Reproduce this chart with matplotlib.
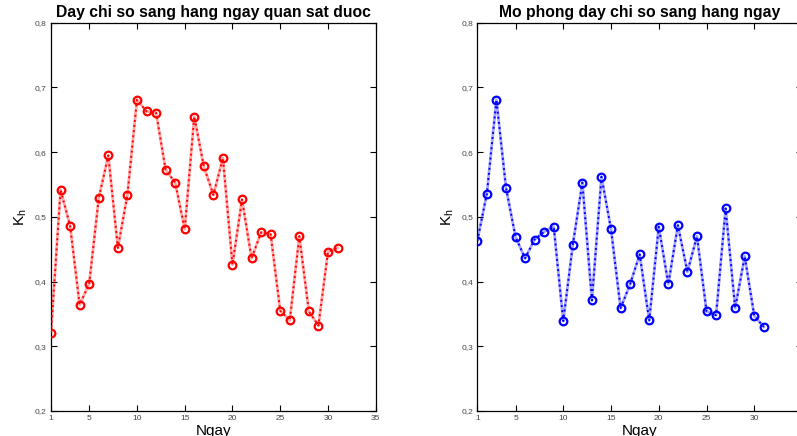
import matplotlib
matplotlib.use("Agg")
import matplotlib.pyplot as plt

plt.rcParams["font.family"] = ["Liberation Sans", "DejaVu Sans"]

days = list(range(1, 32))
observed = [0.321, 0.542, 0.486, 0.364, 0.397, 0.529, 0.595, 0.452, 0.534, 0.681,
            0.663, 0.661, 0.573, 0.553, 0.481, 0.655, 0.578, 0.534, 0.591, 0.426,
            0.527, 0.436, 0.476, 0.473, 0.355, 0.340, 0.470, 0.354, 0.332, 0.446,
            0.452]
simulated = [0.463, 0.536, 0.681, 0.545, 0.469, 0.436, 0.465, 0.477, 0.485, 0.339,
             0.457, 0.553, 0.371, 0.562, 0.481, 0.359, 0.396, 0.442, 0.340, 0.485,
             0.396, 0.487, 0.415, 0.470, 0.354, 0.348, 0.513, 0.359, 0.439, 0.347,
             0.330]

x_ticks = [1, 5, 10, 15, 20, 25, 30, 35]
y_ticks = [0.2, 0.3, 0.4, 0.5, 0.6, 0.7, 0.8]
y_ticklabels = ["0,2", "0,3", "0,4", "0,5", "0,6", "0,7", "0,8"]

titles = ["Day chi so sang hang ngay quan sat duoc",
          "Mo phong day chi so sang hang ngay"]

fig = plt.figure(figsize=(7.97, 4.36), dpi=100)
ax1 = fig.add_axes([0.064, 0.0573, 0.4074, 0.8906])
ax2 = fig.add_axes([0.5989, 0.0573, 0.4074, 0.8906])


def draw(ax, values, color, title):
    # soft under-line + dotted line, like the MATLAB export
    ax.plot(days, values, color=color, lw=2.0, alpha=0.35, zorder=2)
    ax.plot(days, values, color=color, lw=1.4, ls=":", zorder=3,
            marker="o", ms=5.5, mfc="none", mec=color, mew=1.6)
    ax.set_xlim(1, 35)
    ax.set_ylim(0.2, 0.8)
    ax.set_xticks(x_ticks)
    ax.set_yticks(y_ticks)
    ax.set_yticklabels(y_ticklabels)
    ax.tick_params(direction="in", length=4, width=0.8, top=True, right=True,
                   labelsize=6, labelcolor="#444444", pad=3)
    for s in ax.spines.values():
        s.set_linewidth(0.9)
    ax.set_title(title, fontsize=11.3, fontweight="bold", pad=4)
    ax.set_xlabel("Ngay", fontsize=11, labelpad=1)
    ax.set_ylabel(r"K$_\mathregular{h}$", fontsize=11, labelpad=4)


draw(ax1, observed, "red", titles[0])
draw(ax2, simulated, "blue", titles[1])

fig.savefig("out.png", dpi=100)
